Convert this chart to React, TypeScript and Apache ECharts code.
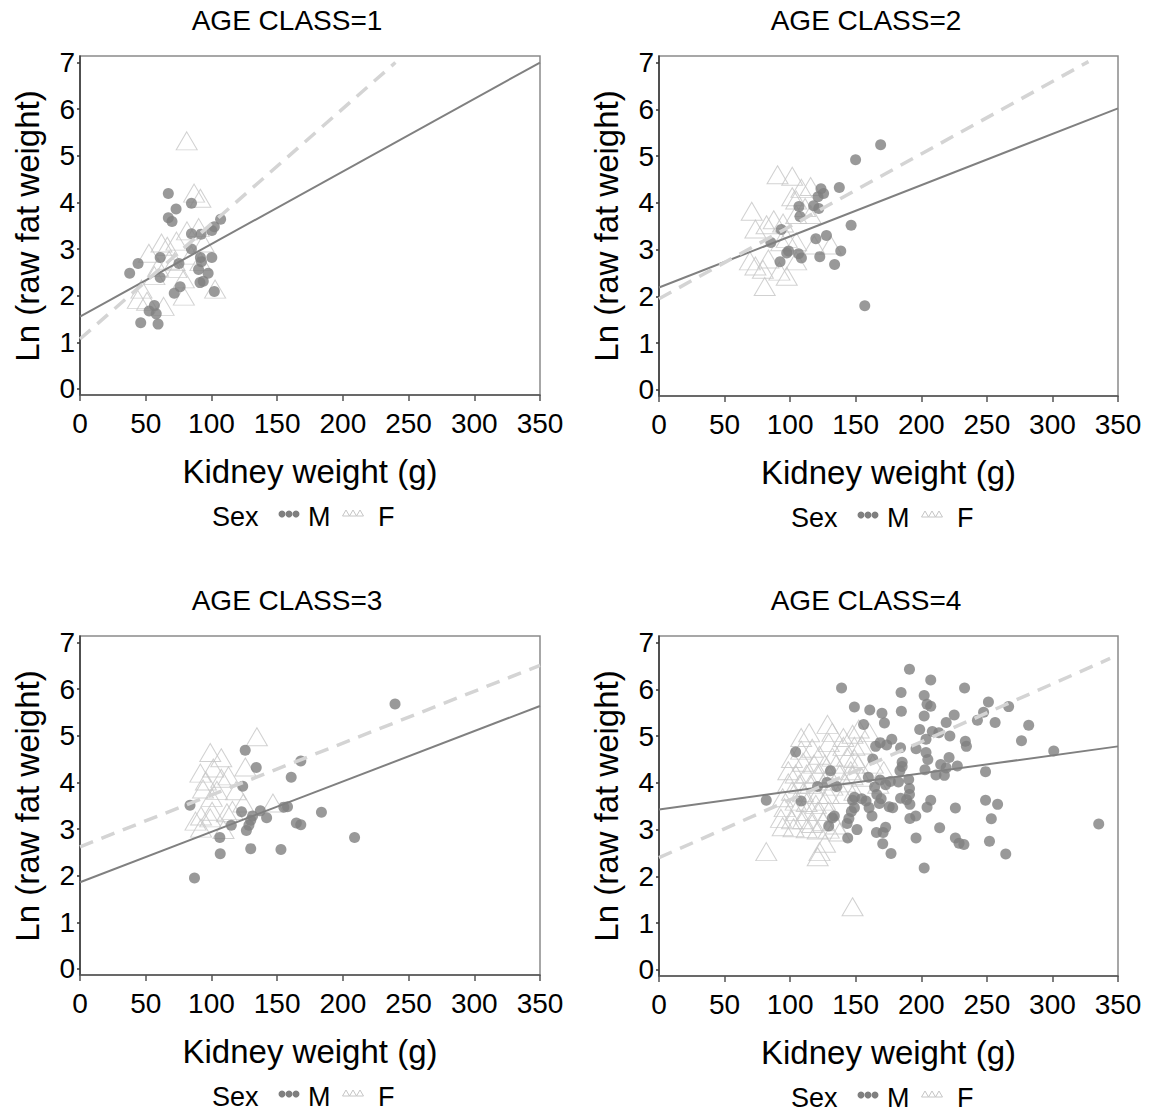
import React, { useEffect, useRef } from "react";
import * as echarts from "echarts";

const FONT = "'Liberation Sans', Arial, Helvetica, sans-serif";

const titles = ["AGE CLASS=1", "AGE CLASS=2", "AGE CLASS=3", "AGE CLASS=4"];
const xTitle = "Kidney weight (g)";
const yTitle = "Ln (raw fat weight)";
const legendTitle = "Sex";
const sexNames = ["M", "F"];
const xTicks = [0, 50, 100, 150, 200, 250, 300, 350];
const yTicks = [0, 1, 2, 3, 4, 5, 6, 7];

// AGE CLASS = 1
const m1 = [
  [37.8, 2.48], [44.2, 2.69], [46.2, 1.42], [52.6, 1.67], [56.6, 1.79], [59.4, 1.39], [58, 1.61],
  [61, 2.82], [61, 2.39], [67.2, 4.19], [67.2, 3.67], [70, 3.59], [73.1, 3.86], [71.7, 2.05],
  [75.3, 2.69], [76.2, 2.19], [84.8, 3.98], [84.8, 3.33], [84.8, 3.0], [92.1, 3.32], [91.6, 2.82],
  [90.2, 2.56], [91.3, 2.28], [93.8, 2.31], [97.5, 2.48], [100.3, 2.82], [100.3, 3.4], [102.2, 3.48],
  [107, 3.64], [102.2, 2.09], [92.4, 2.73],
];
const f1 = [
  [81.2, 5.32], [86.8, 4.2], [91.6, 4.09], [52.4, 2.91], [66.4, 3.06], [73.4, 3.17], [81.4, 3.39],
  [90.3, 3.46], [94, 3.13], [91.6, 2.73], [67.8, 2.76], [59.4, 2.61], [56.6, 2.43], [79, 2.36],
  [79, 1.99], [46.8, 2.14], [44, 1.92], [51, 1.88], [63.6, 1.77], [102.8, 2.14], [72, 2.73],
  [62, 3.13], [84.6, 2.87], [73.4, 2.58],
];
const mFit1 = [[0, 1.55], [350, 7.0]];
const fFit1 = [[0, 1.07], [240, 7.0]];

// AGE CLASS = 2
const m2 = [
  [169, 5.24], [149.9, 4.92], [137.5, 4.33], [123.5, 4.3], [125.5, 4.2], [121.2, 4.13], [117.9, 3.94],
  [121.8, 3.88], [106.7, 3.92], [107.5, 3.71], [146.5, 3.52], [93.2, 3.43], [85.3, 3.15], [127.7, 3.3],
  [119.6, 3.23], [97.4, 2.93], [98.8, 2.97], [106.4, 2.91], [108.6, 2.82], [92.3, 2.74], [122.6, 2.85],
  [138.6, 2.97], [133.9, 2.68], [156.9, 1.8],
];
const f2 = [
  [90.4, 4.6], [101.6, 4.57], [70.7, 3.82], [73.5, 3.44], [87.5, 3.64], [94.6, 3.57], [101.6, 4.13],
  [108.6, 4.31], [115.6, 4.35], [111.4, 3.9], [104.6, 3.75], [115.6, 3.75], [97.4, 3.24], [104.6, 3.17],
  [93.2, 3.17], [118.4, 3.1], [131, 3.1], [69.3, 2.76], [73.5, 2.65], [79.2, 2.58], [80.6, 2.21],
  [91.8, 2.54], [97.4, 2.43], [104.6, 2.76], [83.4, 2.8], [82, 3.53], [104.6, 4.06],
];
const mFit2 = [[0, 2.19], [350, 6.02]];
const fFit2 = [[0, 1.95], [327.5, 7.02]];

// AGE CLASS = 3
const m3 = [
  [239.7, 5.68], [125.7, 4.69], [134.1, 4.32], [168, 4.46], [160.7, 4.11], [123.8, 3.92], [83.7, 3.51],
  [122.9, 3.37], [137.2, 3.39], [131.3, 3.28], [142, 3.24], [155.1, 3.47], [157.9, 3.48], [183.7, 3.36],
  [129.9, 3.19], [128.5, 3.08], [126.6, 2.97], [115.1, 3.08], [164.6, 3.13], [168, 3.09], [106.4, 2.82],
  [208.9, 2.82], [106.7, 2.47], [129.9, 2.58], [152.9, 2.56], [87.1, 1.95],
];
const f3 = [
  [134.6, 4.98], [99.1, 4.64], [107.5, 4.53], [91.6, 4.2], [101.4, 4.31], [125.8, 4.33], [107.5, 4.09],
  [95.8, 4.03], [113, 4.14], [93.6, 3.86], [104.2, 3.83], [100.2, 3.68], [124.3, 3.56], [146.8, 3.56],
  [92.1, 3.28], [111.8, 3.35], [116, 3.4], [99.1, 3.24], [87.9, 3.17], [92.1, 3.02], [109.2, 2.99],
  [100.5, 3.38], [118.7, 3.82],
];
const mFit3 = [[0, 1.86], [350, 5.64]];
const fFit3 = [[0, 2.62], [350, 6.51]];

// AGE CLASS = 4
const m4 = [
  [191, 6.43], [207.2, 6.2], [139.2, 6.03], [184.6, 5.93], [202.2, 5.87], [233, 6.03], [149, 5.62],
  [204.4, 5.68], [207.2, 5.64], [251.2, 5.73], [266.6, 5.63], [160.7, 5.56], [170, 5.49], [184.8, 5.53],
  [202.2, 5.43], [225.1, 5.45], [247.5, 5.51], [242.8, 5.34], [256.3, 5.29], [156, 5.25], [171.9, 5.28],
  [219, 5.29], [281.9, 5.23], [198.8, 5.14], [208.4, 5.1], [213.4, 5.07], [221.8, 5.0], [276.4, 4.9],
  [168.6, 4.86], [177.5, 4.93], [203.6, 4.93], [233.6, 4.89], [234.4, 4.78], [173.6, 4.81], [165.2, 4.78],
  [184.2, 4.75], [196, 4.73], [203.6, 4.65], [205, 4.5], [221.2, 4.54], [163, 4.51], [185.4, 4.44],
  [185.4, 4.35], [214.8, 4.39], [219, 4.32], [227.5, 4.36], [217.6, 4.16], [211.2, 4.17], [202.8, 4.28],
  [183.7, 4.26], [249, 4.24], [301, 4.68], [159.6, 4.12], [190.4, 4.07], [182.6, 4.02], [176.4, 4.03],
  [168.6, 4.06], [172.8, 3.96], [164.4, 3.91], [191, 3.88], [191, 3.75], [188.8, 3.64], [166.1, 3.75],
  [169.4, 3.66], [149, 3.69], [154.6, 3.66], [147.6, 3.63], [157.9, 3.61], [149, 3.47], [160.2, 3.47],
  [168, 3.56], [184.2, 3.67], [207.2, 3.63], [249, 3.63], [258.2, 3.54], [175.5, 3.49], [178.2, 3.47],
  [191.3, 3.54], [204.4, 3.48], [226, 3.46], [162.4, 3.29], [146.7, 3.39], [144.8, 3.24], [191.3, 3.24],
  [195.8, 3.29], [253.4, 3.23], [132.2, 3.25], [143.4, 3.13], [151, 3.0], [172.8, 3.05], [165.8, 2.94],
  [170.9, 2.94], [214, 3.04], [335.3, 3.12], [129.4, 3.08], [143.9, 2.82], [196, 2.82], [226, 2.82],
  [228.8, 2.71], [232.5, 2.68], [170.6, 2.7], [252, 2.75], [176.9, 2.49], [264.4, 2.48], [202.2, 2.18],
  [81.8, 3.63], [104.2, 4.66], [130.8, 4.26], [120.9, 3.92], [135.4, 3.92], [108.4, 3.61], [128, 4.01],
  [133.7, 3.29],
];
const f4 = [
  [128.5, 5.25], [114.5, 5.07], [147.6, 5.04], [152.3, 5.15], [129.4, 4.86], [140.6, 4.78], [149, 4.78],
  [154.6, 4.81], [108.4, 4.7], [116.8, 4.74], [122.4, 4.59], [132.2, 4.55], [143.4, 4.55], [149, 4.52],
  [101.4, 4.52], [109.8, 4.44], [118.2, 4.4], [126.6, 4.4], [135, 4.4], [151.8, 4.4], [171.4, 4.26],
  [104.2, 4.19], [112.6, 4.19], [121, 4.19], [129.4, 4.19], [137.8, 4.19], [147.6, 4.15], [98.6, 4.0],
  [107, 3.97], [115.4, 3.97], [126.6, 4.04], [142, 4.0], [101.4, 3.82], [109.8, 3.79], [121, 3.75],
  [129.4, 3.75], [94.3, 3.68], [104.2, 3.61], [112.6, 3.58], [119.6, 3.54], [126.6, 3.61], [95.8, 3.47],
  [104.2, 3.39], [112.6, 3.39], [121, 3.39], [129.4, 3.39], [93, 3.24], [101.4, 3.21], [109.8, 3.21],
  [116.8, 3.13], [125.2, 3.17], [135, 3.1], [94.3, 3.06], [102.6, 3.04], [112.6, 3.02], [121, 2.99],
  [129.4, 3.01], [137.8, 2.95], [126.6, 2.71], [122.4, 2.53], [121, 2.42], [81.8, 2.53], [147.6, 1.35],
  [98.6, 4.26], [140.6, 4.97], [160.2, 5.08], [108.4, 4.97], [132.2, 5.08], [146.2, 4.26], [163, 4.4],
  [167.2, 3.97], [132.2, 3.93], [140.6, 3.75], [149, 3.82], [154.6, 4.12],
];
const mFit4 = [[0, 3.43], [350, 4.78]];
const fFit4 = [[0, 2.4], [344, 6.66]];

const mData = [m1, m2, m3, m4];
const fData = [f1, f2, f3, f4];
const mFits = [mFit1, mFit2, mFit3, mFit4];
const fFits = [fFit1, fFit2, fFit3, fFit4];

// layout (pixels)
const grids = [
  { left: 80, top: 56, width: 460, height: 339 },
  { left: 659, top: 56, width: 459, height: 340 },
  { left: 80, top: 636, width: 460, height: 339 },
  { left: 659, top: 636, width: 459, height: 340 },
];

const M_COLOR = "#7f7f7f";
const F_COLOR = "#c6c6c6";
const FLINE_COLOR = "#d4d4d4";

export default function App() {
  const ref = useRef<HTMLDivElement>(null);
  useEffect(() => {
    if (!ref.current) return;
    const chart = echarts.init(ref.current, undefined, { renderer: "svg" });

    const xAxis: any[] = [];
    const yAxis: any[] = [];
    const series: any[] = [];
    const graphic: any[] = [];

    grids.forEach((g, i) => {
      xAxis.push({
        type: "value",
        gridIndex: i,
        min: 0,
        max: 350,
        interval: 50,
        axisLine: { show: true, onZero: false, lineStyle: { color: "#555", width: 1.5 } },
        axisTick: { show: true, length: 6, inside: false, lineStyle: { color: "#555", width: 1.5 } },
        axisLabel: { color: "#000", fontSize: 28, fontFamily: FONT, margin: 14, customValues: xTicks },
        splitLine: { show: false },
      });
      yAxis.push({
        type: "value",
        gridIndex: i,
        min: -0.13,
        max: 7.14,
        axisLine: { show: true, onZero: false, lineStyle: { color: "#333", width: 1.5 } },
        axisTick: { show: true, length: 3, inside: false, customValues: yTicks, lineStyle: { color: "#333", width: 1.5 } },
        axisLabel: { color: "#000", fontSize: 28, fontFamily: FONT, margin: 5, customValues: yTicks },
        splitLine: { show: false },
      });
      series.push({
        type: "scatter",
        name: sexNames[1],
        xAxisIndex: i,
        yAxisIndex: i,
        data: fData[i],
        symbol: "triangle",
        symbolSize: [21, 18],
        itemStyle: { color: "rgba(255,255,255,0)", borderColor: F_COLOR, borderWidth: 1 },
        z: 2,
      });
      series.push({
        type: "scatter",
        name: sexNames[0],
        xAxisIndex: i,
        yAxisIndex: i,
        data: mData[i],
        symbol: "circle",
        symbolSize: 11,
        itemStyle: { color: M_COLOR },
        z: 3,
      });
      series.push({
        type: "line",
        name: sexNames[0] + " fit",
        xAxisIndex: i,
        yAxisIndex: i,
        data: mFits[i],
        symbol: "none",
        lineStyle: { color: "#808080", width: 2 },
        z: 4,
      });
      series.push({
        type: "line",
        name: sexNames[1] + " fit",
        xAxisIndex: i,
        yAxisIndex: i,
        data: fFits[i],
        symbol: "none",
        lineStyle: { color: FLINE_COLOR, width: 3.5, type: [14, 9] },
        z: 4,
      });

      const cx = g.left + g.width / 2;
      const bottom = g.top + g.height;
      // panel title
      graphic.push({
        type: "text",
        x: g.left + 207,
        y: g.top - 36,
        style: { text: titles[i], font: `28px ${FONT}`, fill: "#000", align: "center", verticalAlign: "middle" },
      });
      // x axis title
      graphic.push({
        type: "text",
        x: cx,
        y: bottom + 76,
        style: { text: xTitle, font: `33px ${FONT}`, fill: "#000", align: "center", verticalAlign: "middle" },
      });
      // y axis title
      graphic.push({
        type: "text",
        x: g.left - 53,
        y: g.top + 170,
        rotation: Math.PI / 2,
        style: { text: yTitle, font: `33px ${FONT}`, fill: "#000", align: "center", verticalAlign: "middle" },
      });
      // legend
      const lx = g.left + 132;
      const ly = bottom + 122;
      const legendChildren: any[] = [
        { type: "text", x: lx, y: ly, style: { text: legendTitle, font: `27px ${FONT}`, fill: "#000", align: "left", verticalAlign: "middle" } },
        { type: "text", x: lx + 96, y: ly, style: { text: sexNames[0], font: `27px ${FONT}`, fill: "#000", align: "left", verticalAlign: "middle" } },
        { type: "text", x: lx + 166, y: ly, style: { text: sexNames[1], font: `27px ${FONT}`, fill: "#000", align: "left", verticalAlign: "middle" } },
      ];
      [0, 1, 2].forEach((k) => {
        legendChildren.push({
          type: "circle",
          shape: { cx: lx + 70 + k * 7, cy: ly - 3, r: 3.5 },
          style: { fill: M_COLOR },
        });
        const tx = lx + 134 + k * 7;
        legendChildren.push({
          type: "polygon",
          shape: { points: [[tx, ly - 7], [tx - 3.5, ly - 1], [tx + 3.5, ly - 1]] },
          style: { fill: "none", stroke: F_COLOR, lineWidth: 1 },
        });
      });
      graphic.push({ type: "group", children: legendChildren });
    });

    chart.setOption({
      animation: false,
      backgroundColor: "#fff",
      grid: grids.map((g) => ({ ...g, show: true, borderColor: "#8a8a8a", borderWidth: 1.5, containLabel: false })),
      xAxis,
      yAxis,
      series,
      graphic,
    });
    return () => chart.dispose();
  }, []);
  return (
    <div
      ref={ref}
      style={{ position: "absolute", left: 0, top: 0, width: 1152, height: 1113, background: "#fff" }}
    />
  );
}
